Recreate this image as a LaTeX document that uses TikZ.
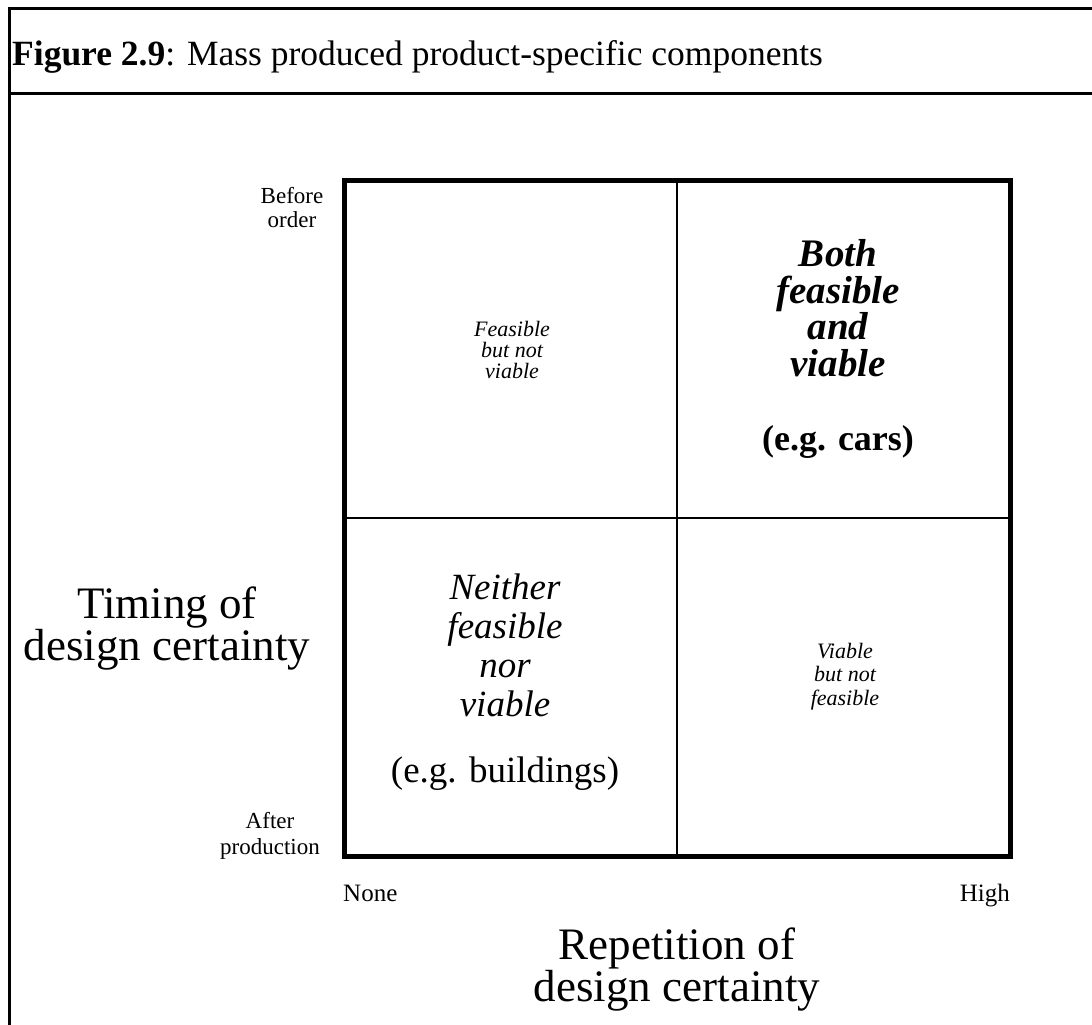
\documentclass[tikz,border=0pt]{standalone}
\usepackage{fontspec}
\setmainfont{Liberation Serif}
\newcommand\setfs[2]{\fontsize{#1}{#2}\selectfont}
\begin{document}
\begin{tikzpicture}[x=1pt,y=-1pt,
  frame/.style={line width=3pt},
  gridbox/.style={line width=5pt, line join=miter},
  divider/.style={line width=2pt},
  lbl/.style={inner sep=0pt, align=center, anchor=base},
]
\useasboundingbox (0,0) rectangle (1092,1025);

% outer frame (open to the right and bottom) and caption rule
\draw[frame] (1092,8.5) -- (9,8.5) -- (9,1025);
\draw[frame] (9,93.5) -- (1092,93.5);

% caption
\node[lbl, anchor=base west, font=\setfs{35.5}{40}] (title) at (12,66)
  {\textbf{Figure 2.9}: Mass produced product-specific components};

% the 2x2 matrix
\draw[gridbox] (344,180.5) rectangle (1010,856.5);
\draw[divider] (677,180.5) -- (677,856.5);
\draw[divider] (344,518) -- (1010,518);

% quadrant texts (anchored at the baseline of their last line)
\node[lbl, font=\setfs{22}{21}\itshape] (tl) at (512,378)
  {Feasible\\but not\\viable};
\node[lbl, font=\setfs{39}{36.5}\bfseries\itshape] (tr) at (838,376)
  {Both\\feasible\\and\\viable};
\node[lbl, font=\setfs{36}{40}\bfseries] (trex) at (838,450)
  {(e.g. cars)};
\node[lbl, font=\setfs{37}{39}\itshape] (bl) at (505,716)
  {Neither\\feasible\\nor\\viable};
\node[lbl, font=\setfs{37}{40}] (blex) at (505,782)
  {(e.g. buildings)};
\node[lbl, font=\setfs{22}{23.5}\itshape] (br) at (845,705)
  {Viable\\but not\\feasible};

% vertical axis
\node[lbl, font=\setfs{23}{24}] (before) at (292,227) {Before\\order};
\node[lbl, font=\setfs{23}{26}] (after) at (270,854) {After\\production};
\node[lbl, font=\setfs{45}{40}] (yaxis) at (167,660) {Timing of\\design certainty};

% horizontal axis
\node[lbl, anchor=base west, font=\setfs{25}{28}] (none) at (343,901) {None};
\node[lbl, anchor=base east, font=\setfs{25}{28}] (high) at (1010,901) {High};
\node[lbl, font=\setfs{45}{38}] (xaxis) at (677,1001) {Repetition of\\design certainty};
\end{tikzpicture}
\end{document}
